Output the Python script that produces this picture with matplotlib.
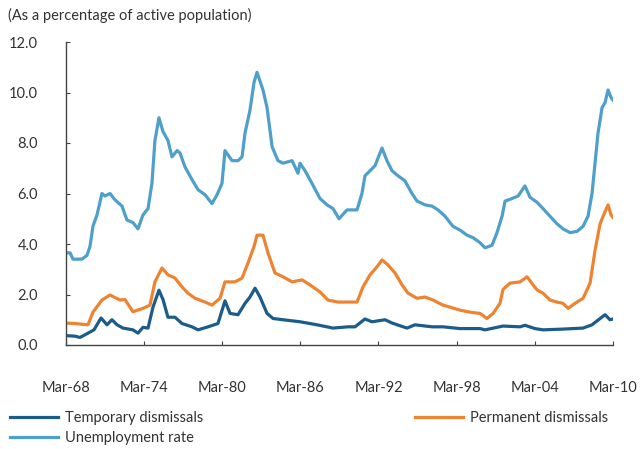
import matplotlib
matplotlib.use("Agg")
import matplotlib.pyplot as plt

plt.rcParams["font.family"] = ["Lato", "DejaVu Sans"]

# ======================
# 数据（从图上读取，年份为小数）
# ======================
unemp_year = [1968.17, 1968.48, 1968.71, 1969.40, 1969.78, 1970.01, 1970.24, 1970.55, 1970.93,
              1971.17, 1971.55, 1971.93, 1972.47, 1972.85, 1973.31, 1973.70, 1974.08, 1974.47,
              1974.77, 1975.00, 1975.31, 1975.62, 1976.00, 1976.31, 1976.70, 1976.93, 1977.31,
              1977.85, 1978.31, 1978.85, 1979.38, 1979.77, 1980.15, 1980.38, 1980.92, 1981.38,
              1981.69, 1981.92, 1982.30, 1982.61, 1982.84, 1983.30, 1983.61, 1984.00, 1984.45,
              1984.84, 1985.53, 1985.99, 1986.14, 1986.53, 1987.06, 1987.68, 1988.22, 1988.68,
              1989.14, 1989.75, 1990.52, 1990.90, 1991.13, 1991.52, 1991.90, 1992.44, 1992.82,
              1993.21, 1993.67, 1994.20, 1994.74, 1995.13, 1995.74, 1996.28, 1996.74, 1997.28,
              1997.43, 1997.89, 1998.43, 1998.97, 1999.43, 1999.97, 2000.35, 2000.89, 2001.27,
              2001.66, 2001.89, 2002.42, 2002.89, 2003.42, 2003.81, 2004.35, 2004.81, 2005.34,
              2005.88, 2006.34, 2006.88, 2007.42, 2007.88, 2008.26, 2008.57, 2008.80, 2009.03,
              2009.34, 2009.57, 2009.80, 2010.03, 2010.18]
unemp_rate = [3.65, 3.65, 3.40, 3.40, 3.55, 3.90, 4.70, 5.15, 6.00,
              5.90, 6.00, 5.75, 5.50, 4.95, 4.85, 4.60, 5.15, 5.40,
              6.40, 8.10, 9.00, 8.45, 8.10, 7.45, 7.70, 7.60, 7.05,
              6.55, 6.15, 5.95, 5.60, 5.95, 6.40, 7.70, 7.30, 7.30,
              7.45, 8.40, 9.30, 10.40, 10.80, 10.10, 9.40, 7.85, 7.30,
              7.20, 7.30, 6.80, 7.20, 6.90, 6.40, 5.80, 5.55, 5.40,
              5.00, 5.35, 5.35, 6.00, 6.70, 6.90, 7.10, 7.80, 7.30,
              6.90, 6.70, 6.50, 6.00, 5.70, 5.55, 5.50, 5.35, 5.10,
              5.00, 4.70, 4.55, 4.35, 4.25, 4.05, 3.85, 3.95, 4.45,
              5.10, 5.70, 5.80, 5.90, 6.30, 5.85, 5.65, 5.40, 5.10,
              4.80, 4.60, 4.45, 4.50, 4.70, 5.10, 6.00, 7.20, 8.40,
              9.40, 9.60, 10.10, 9.80, 9.70]

perm_year = [1968.17, 1968.86, 1969.86, 1970.24, 1970.93, 1971.55, 1972.32, 1972.70, 1973.31,
             1974.08, 1974.62, 1975.00, 1975.54, 1976.00, 1976.54, 1977.08, 1977.54, 1978.08,
             1978.85, 1979.38, 1980.00, 1980.38, 1981.15, 1981.69, 1982.15, 1982.61, 1982.84,
             1983.30, 1983.68, 1984.22, 1984.84, 1985.53, 1986.30, 1986.91, 1987.68, 1988.29,
             1989.06, 1989.83, 1990.52, 1990.98, 1991.52, 1992.06, 1992.44, 1992.90, 1993.44,
             1993.98, 1994.44, 1995.13, 1995.74, 1996.36, 1997.12, 1997.66, 1998.43, 1999.20,
             1999.97, 2000.50, 2000.97, 2001.50, 2001.73, 2002.27, 2003.04, 2003.58, 2004.04,
             2004.35, 2004.81, 2005.34, 2005.88, 2006.34, 2006.73, 2007.26, 2007.88, 2008.42,
             2008.80, 2009.19, 2009.42, 2009.80, 2010.03, 2010.18]
perm_rate = [0.87, 0.85, 0.80, 1.30, 1.78, 1.98, 1.78, 1.80, 1.32,
             1.45, 1.58, 2.50, 3.05, 2.78, 2.65, 2.30, 2.05, 1.85,
             1.70, 1.58, 1.85, 2.50, 2.50, 2.65, 3.25, 3.90, 4.35,
             4.35, 3.65, 2.85, 2.70, 2.50, 2.58, 2.38, 2.10, 1.78,
             1.70, 1.70, 1.70, 2.30, 2.78, 3.10, 3.37, 3.17, 2.85,
             2.38, 2.05, 1.85, 1.90, 1.78, 1.58, 1.50, 1.38, 1.30,
             1.25, 1.05, 1.25, 1.65, 2.20, 2.45, 2.50, 2.70, 2.38,
             2.18, 2.05, 1.78, 1.70, 1.65, 1.45, 1.65, 1.85, 2.45,
             3.75, 4.80, 5.10, 5.55, 5.15, 5.05]

temp_year = [1968.17, 1968.86, 1969.25, 1969.86, 1970.32, 1970.86, 1971.32, 1971.70, 1972.09,
             1972.55, 1973.31, 1973.70, 1974.08, 1974.47, 1974.85, 1975.31, 1975.62, 1976.00,
             1976.54, 1977.08, 1977.85, 1978.31, 1979.08, 1979.84, 1980.38, 1980.77, 1981.38,
             1981.92, 1982.30, 1982.69, 1983.07, 1983.61, 1984.07, 1984.84, 1986.14, 1987.45,
             1988.68, 1989.83, 1990.37, 1991.13, 1991.67, 1992.67, 1993.21, 1994.36, 1994.97,
             1996.28, 1997.12, 1998.43, 1999.97, 2000.35, 2001.27, 2001.73, 2003.04, 2003.42,
             2004.19, 2004.81, 2006.34, 2007.88, 2008.57, 2009.19, 2009.57, 2009.95, 2010.18]
temp_rate = [0.37, 0.35, 0.30, 0.47, 0.60, 1.07, 0.80, 1.00, 0.80,
             0.67, 0.60, 0.47, 0.70, 0.67, 1.50, 2.17, 1.80, 1.10,
             1.10, 0.85, 0.72, 0.60, 0.72, 0.85, 1.75, 1.25, 1.20,
             1.65, 1.90, 2.25, 1.90, 1.25, 1.05, 1.00, 0.92, 0.80,
             0.67, 0.72, 0.72, 1.03, 0.92, 1.00, 0.87, 0.67, 0.80,
             0.72, 0.72, 0.65, 0.65, 0.60, 0.70, 0.75, 0.72, 0.78,
             0.65, 0.60, 0.63, 0.67, 0.80, 1.05, 1.20, 1.00, 1.03]

tick_years = [1968.17, 1974.17, 1980.17, 1986.17, 1992.17, 1998.17, 2004.17, 2010.17]
tick_labels = ["Mar-68", "Mar-74", "Mar-80", "Mar-86", "Mar-92", "Mar-98", "Mar-04", "Mar-10"]

# 画图
fig = plt.figure(figsize=(6.4, 4.49), dpi=100)
ax = fig.add_axes([66 / 640, 1 - 345 / 449, (613 - 66) / 640, (345 - 42) / 449])

line_t, = ax.plot(temp_year, temp_rate, color="#1b5c8a", lw=2.3, label="Temporary dismissals")
line_u, = ax.plot(unemp_year, unemp_rate, color="#4f9fcb", lw=2.3, label="Unemployment rate")
line_p, = ax.plot(perm_year, perm_rate, color="#ee8431", lw=2.3, label="Permanent dismissals")

ax.set_xlim(1968.17, 2010.18)
ax.set_ylim(0, 12)
ax.set_yticks([0, 2, 4, 6, 8, 10, 12])
ax.set_yticklabels([f"{v:.1f}" for v in range(0, 13, 2)])
ax.set_xticks(tick_years)
ax.set_xticklabels(tick_labels)

for side in ["top", "right"]:
    ax.spines[side].set_visible(False)
for side in ["left", "bottom"]:
    ax.spines[side].set_color("#444444")
    ax.spines[side].set_linewidth(1.0)
ax.tick_params(axis="y", direction="in", length=3, color="#444444", labelsize=10.5,
               labelcolor="#333333", pad=20)
ax.tick_params(axis="x", direction="in", length=3, color="#444444", labelsize=10.5,
               labelcolor="#333333", pad=26)

fig.text(8 / 640, 1 - 15 / 449, "(As a percentage of active population)", fontsize=10.5,
         color="#333333", va="center", ha="left")

fig.legend(handles=[line_t, line_u, line_p], ncol=2, loc="upper left",
           bbox_to_anchor=(-2 / 640, 1 - 399 / 449), frameon=False, fontsize=10.5,
           handlelength=3.3, handletextpad=0.5, columnspacing=14.5,
           labelspacing=0.46, borderpad=0.3, labelcolor="#333333")

fig.savefig("out.png", dpi=100)
